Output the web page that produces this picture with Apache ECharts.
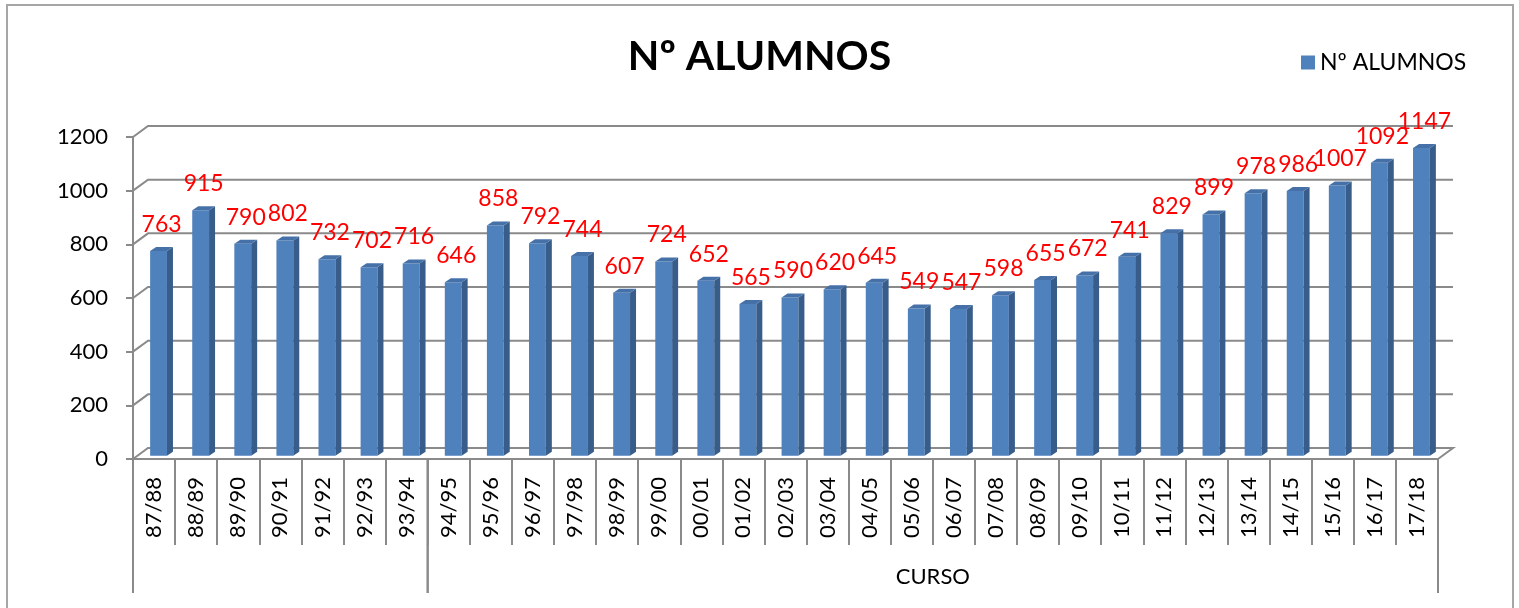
<!DOCTYPE html>
<html>
<head>
<meta charset="utf-8">
<title>Nº ALUMNOS</title>
<script src="https://cdn.jsdelivr.net/npm/echarts@6/dist/echarts.min.js"></script>
<style>
  html, body { margin: 0; padding: 0; background: #fff; }
  #chart { width: 1519px; height: 608px; }
</style>
</head>
<body>
<div id="chart"></div>
<script>
const cursos = ['87/88', '88/89', '89/90', '90/91', '91/92', '92/93', '93/94', '94/95', '95/96', '96/97',
  '97/98', '98/99', '99/00', '00/01', '01/02', '02/03', '03/04', '04/05', '05/06', '06/07', '07/08',
  '08/09', '09/10', '10/11', '11/12', '12/13', '13/14', '14/15', '15/16', '16/17', '17/18'];
const alumnos = [763, 915, 790, 802, 732, 702, 716, 646, 858, 792, 744, 607, 724, 652, 565, 590,
  620, 645, 549, 547, 598, 655, 672, 741, 829, 899, 978, 986, 1007, 1092, 1147];
const yTicks = [0, 200, 400, 600, 800, 1000, 1200];
const groupStart = [0, 7];
const groupEnd = [7, 31];
const groupLabel = ['', 'CURSO'];

const FONT = 'Lato';
const GRID_COLOR = '#8a8a8a';
// 3D depth of the walls (px)
const DX = 15;
const DY = 11;

const chart = echarts.init(document.getElementById('chart'));

function renderWall(params, api) {
  const cs = params.coordSys;
  const v = api.value(1);
  const y = api.coord([0, v])[1];
  const left = cs.x;
  const right = cs.x + cs.width;
  const points = [[left, y], [left + DX, y - DY], [right + DX, y - DY]];
  if (v === 0) points.push([right, y]);
  return {
    type: 'polyline',
    shape: { points },
    style: { stroke: GRID_COLOR, lineWidth: 2, fill: null },
  };
}

function renderBar(params, api) {
  const i = api.value(0);
  const v = api.value(1);
  const top = api.coord([i, v]);
  const base = api.coord([i, 0]);
  const band = api.size([1, 0])[0];
  const w = band * 0.4;
  const x0 = top[0] - w / 2 + DX * 0.3;
  const x1 = x0 + w;
  const yt = top[1] - DY * 0.3;
  const yb = base[1] - DY * 0.3;
  const sx = 6;
  const sy = 4;
  return {
    type: 'group',
    children: [
      {
        type: 'rect',
        shape: { x: x0, y: yt, width: w, height: yb - yt },
        style: { fill: '#4f81bd' },
      },
      {
        type: 'polygon',
        shape: { points: [[x1, yt], [x1 + sx, yt - sy], [x1 + sx, yb - sy], [x1, yb]] },
        style: { fill: '#385d8a' },
      },
      {
        type: 'polygon',
        shape: { points: [[x0, yt], [x0 + sx, yt - sy], [x1 + sx, yt - sy], [x1, yt]] },
        style: { fill: '#4571a8' },
      },
      {
        type: 'text',
        style: {
          text: String(v),
          x: (x0 + x1 + sx) / 2,
          y: yt - sy - 11,
          align: 'center',
          verticalAlign: 'bottom',
          fill: '#ff0000',
          fontSize: 23,
          fontFamily: FONT,
        },
      },
    ],
  };
}

function renderGroup(params, api) {
  const band = api.size([1, 0])[0];
  const s = api.value(0);
  const e = api.value(1);
  const y0 = api.coord([s, 0])[1];
  const xs = api.coord([s, 0])[0] - band / 2;
  const xe = api.coord([e - 1, 0])[0] + band / 2;
  return {
    type: 'group',
    children: [
      {
        type: 'line',
        shape: { x1: xs, y1: y0, x2: xs, y2: y0 + 134 },
        style: { stroke: GRID_COLOR, lineWidth: 2 },
      },
      {
        type: 'line',
        shape: { x1: xe, y1: y0, x2: xe, y2: y0 + 134 },
        style: { stroke: GRID_COLOR, lineWidth: 2 },
      },
      {
        type: 'text',
        style: {
          text: groupLabel[params.dataIndex],
          x: (xs + xe) / 2,
          y: y0 + 118,
          align: 'center',
          verticalAlign: 'middle',
          fill: '#000',
          fontSize: 22,
          fontFamily: FONT,
        },
      },
    ],
  };
}

const option = {
  animation: false,
  title: {
    text: 'Nº ALUMNOS',
    left: 'center',
    top: 31,
    textStyle: { fontSize: 41, fontWeight: 'bold', fontFamily: FONT, color: '#000' },
  },
  legend: {
    data: [{ name: 'Nº ALUMNOS', icon: 'rect' }],
    left: 1296,
    top: 46,
    itemWidth: 14,
    itemHeight: 14,
    itemGap: 7,
    textStyle: { fontSize: 23, fontFamily: FONT, color: '#000' },
  },
  graphic: [
    {
      type: 'rect',
      shape: { x: 7, y: 5, width: 1506, height: 660 },
      style: { fill: null, stroke: '#a6a6a6', lineWidth: 2 },
      z: -10,
    },
  ],
  grid: {
    left: 133,
    top: 137,
    width: 1305,
    height: 322,
  },
  xAxis: {
    type: 'category',
    data: cursos,
    axisLine: { lineStyle: { color: GRID_COLOR, width: 2 } },
    axisTick: { show: true, interval: 0, length: 86, lineStyle: { color: GRID_COLOR, width: 2 } },
    axisLabel: { interval: 0, rotate: 90, margin: 18, fontSize: 22, fontFamily: FONT, color: '#000' },
    splitLine: { show: false },
  },
  yAxis: {
    type: 'value',
    min: 0,
    max: 1200,
    interval: 200,
    axisLine: { show: true, lineStyle: { color: GRID_COLOR, width: 2 } },
    axisTick: { show: true, length: 7, lineStyle: { color: GRID_COLOR, width: 2 } },
    axisLabel: {
      margin: 25,
      fontSize: 22,
      fontFamily: FONT,
      color: '#000',
      formatter: value => String(value),
    },
    splitLine: { show: false },
  },
  series: [
    {
      type: 'custom',
      name: 'walls',
      renderItem: renderWall,
      data: yTicks.map(v => [0, v]),
      encode: { x: 0, y: 1 },
      silent: true,
      z: 1,
    },
    {
      type: 'custom',
      name: 'Nº ALUMNOS',
      renderItem: renderBar,
      data: alumnos.map((v, i) => [i, v]),
      encode: { x: 0, y: 1 },
      itemStyle: { color: '#4f81bd' },
      z: 3,
    },
    {
      type: 'custom',
      name: 'groups',
      renderItem: renderGroup,
      data: groupStart.map((s, i) => [s, groupEnd[i]]),
      encode: { x: 0, y: 1 },
      silent: true,
      clip: false,
      z: 2,
    },
  ],
};

chart.setOption(option);
</script>
</body>
</html>
